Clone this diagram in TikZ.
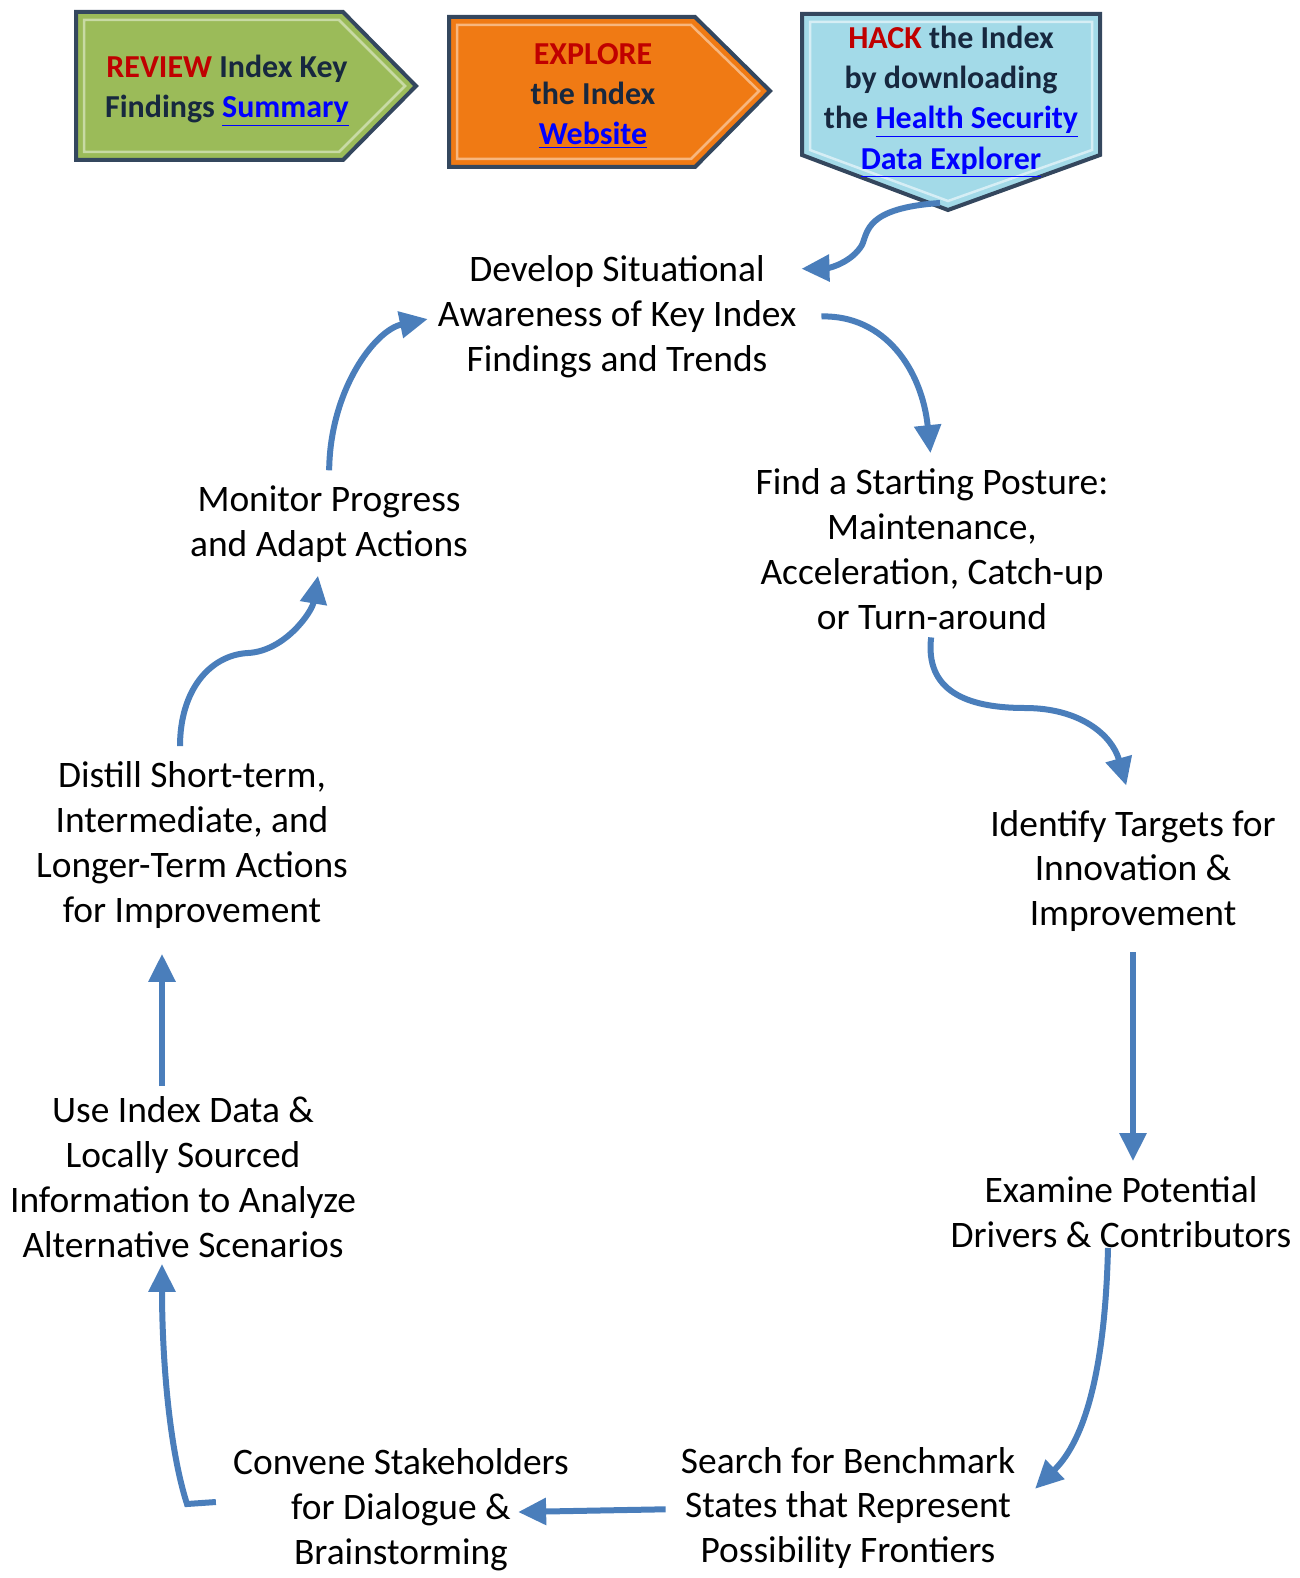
\documentclass[tikz,border=0pt]{standalone}
\usepackage{fontspec}
\setmainfont{Carlito}
\usetikzlibrary{arrows.meta}

\definecolor{flowblue}{HTML}{4A7EBB}
\definecolor{badgeedge}{HTML}{34475E}
\definecolor{hred}{HTML}{C00000}
\definecolor{hnavy}{HTML}{17283F}
\definecolor{linkblue}{HTML}{0000FF}
\definecolor{reviewgreen}{HTML}{9BBB59}
\definecolor{exploreorange}{HTML}{F07A14}
\definecolor{hackblue}{HTML}{A3DAE8}

\newcommand{\linktext}[1]{{\color{linkblue}\underline{#1}}}

\tikzset{
  stage/.style={align=center, inner sep=0pt, font=\fontsize{21.3}{25.6}\selectfont},
  flow/.style={draw=flowblue, line width=0.12cm, -{Triangle[length=0.56cm,width=0.52cm]}},
  badge/.style={draw=badgeedge, line width=0.08cm, line join=miter},
  bevel/.style={line width=0.05cm},
  badgetext/.style={align=center, inner sep=0pt, text=hnavy, font=\bfseries\fontsize{18.2}{22.8}\selectfont}
}

\begin{document}
\begin{tikzpicture}[x=0.02cm,y=-0.02cm]
    \useasboundingbox (0,0) rectangle (1300,1578);

    % top badges
    \draw[badge, fill=reviewgreen] (76,12) -- (343,12) -- (416,86) -- (343,160) -- (76,160) -- cycle;
    \draw[bevel, draw=reviewgreen!55!white] (84,20) -- (339,20) -- (405,86) -- (339,152) -- (84,152) -- cycle;
    \node[badgetext] (review) at (227,91) {\textcolor{hred}{REVIEW} Index Key\\Findings \linktext{Summary}};

    \draw[badge, fill=exploreorange] (449,17) -- (695,17) -- (770,91) -- (695,167) -- (449,167) -- cycle;
    \draw[bevel, draw=exploreorange!55!white] (457,25) -- (691,25) -- (759,91) -- (691,159) -- (457,159) -- cycle;
    \node[badgetext] (explore) at (593,96) {\textcolor{hred}{EXPLORE}\\the Index\\\linktext{Website}};

    \draw[badge, fill=hackblue] (802,14) -- (1100,14) -- (1100,155) -- (948,210) -- (802,155) -- cycle;
    \draw[bevel, draw=hackblue!45!white] (810,22) -- (1092,22) -- (1092,150) -- (948,201) -- (810,150) -- cycle;
    \node[badgetext] (hack) at (951,102) {\textcolor{hred}{HACK} the Index\\by downloading\\the \linktext{Health Security}\\\linktext{Data Explorer}};
    \coordinate (hacktip) at (940,203);

    % cycle stages
    \node[stage] (dev) at (617,317) {Develop Situational\\Awareness of Key Index\\Findings and Trends};
    \node[stage] (find) at (932,549) {Find a Starting Posture:\\Maintenance,\\Acceleration, Catch-up\\or Turn-around};
    \node[stage] (ident) at (1133,871) {Identify Targets for\\Innovation \&\\Improvement};
    \node[stage] (exam) at (1121,1212) {Examine Potential\\Drivers \& Contributors};
    \node[stage] (search) at (848,1508) {Search for Benchmark\\States that Represent\\Possibility Frontiers};
    \node[stage] (convene) at (401,1510) {Convene Stakeholders\\for Dialogue \&\\Brainstorming};
    \node[stage] (use) at (183,1177) {Use Index Data \&\\Locally Sourced\\Information to Analyze\\Alternative Scenarios};
    \node[stage] (distill) at (192,845) {Distill Short-term,\\Intermediate, and\\Longer-Term Actions\\for Improvement};
    \node[stage] (monitor) at (329,524) {Monitor Progress\\and Adapt Actions};

    % connectors
    \draw[flow, shorten >=0.1cm] (hacktip) .. controls (865,208) and (868,232) .. (862,245)
        .. controls (852,262) and (830,268) .. (dev.15);
    \draw[flow, shorten <=0.5cm, shorten >=0.3cm] (dev.east) .. controls (885,315) and (922,370) .. (find.north);
    \draw[flow, shorten <=0.15cm, shorten >=0.5cm] (find.south) .. controls (925,690) and (965,708) .. (1025,708)
        .. controls (1080,708) and (1112,735) .. (ident.north);
    \draw[flow, shorten <=0.4cm, shorten >=0.3cm] (ident.south) -- (ident.south |- exam.north);
    \draw[flow, shorten >=0.55cm] ([xshift=-0.26cm]exam.south) .. controls (1105,1370) and (1085,1440) .. (search.east);
    \draw[flow, shorten <=0.3cm] ([yshift=-0.02cm]search.west) -- ([xshift=-1.02cm,yshift=-0.04cm]convene.east);
    \draw[flow] ([xshift=-0.34cm,yshift=0.16cm]convene.west) -- (187,1504)
        .. controls (168,1445) and (162,1350) .. ([xshift=-0.42cm,yshift=-0.12cm]use.south);
    \draw[flow, shorten <=0.2cm, shorten >=0.5cm] ([xshift=-0.42cm]use.north) -- ([xshift=-0.42cm]use.north |- distill.south);
    \draw[flow] ([xshift=-0.24cm,yshift=0.3cm]distill.north) .. controls (180,690) and (210,655) .. (248,653)
        .. controls (285,651) and (312,612) .. ([xshift=-0.22cm,yshift=-0.26cm]monitor.south);
    \draw[flow, shorten <=0.3cm, shorten >=0.2cm] (monitor.north) .. controls (330,390) and (375,330) .. (dev.west);
\end{tikzpicture}
\end{document}
